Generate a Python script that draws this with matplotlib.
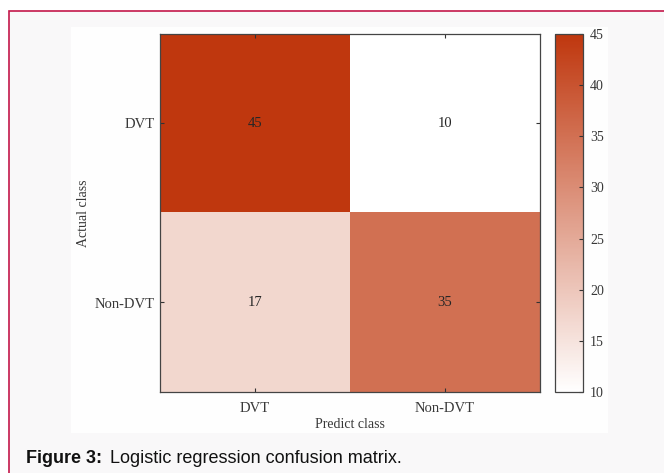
import matplotlib
matplotlib.use('Agg')
import matplotlib.pyplot as plt
import numpy as np
from matplotlib.colors import LinearSegmentedColormap
from matplotlib.patches import Rectangle

# confusion matrix, rows = actual, cols = predicted
classes = ['DVT', 'Non-DVT']
counts = np.array([[45, 10],
                   [17, 35]])
cbar_ticks = [10, 15, 20, 25, 30, 35, 40, 45]

plt.rcParams['font.family'] = ['Liberation Serif', 'DejaVu Serif']

fig = plt.figure(figsize=(6.64, 4.73), dpi=100)
fig.patch.set_facecolor('white')

# framed box behind the chart, cut off at right / bottom
fig.patches.append(Rectangle((9 / 664, -0.1), 1.2, 0.1 + 1 - 11 / 473,
                             transform=fig.transFigure, facecolor='#f9f8f9',
                             edgecolor='#c4184a', linewidth=1.2, zorder=-3))
# white panel of the chart image itself
fig.patches.append(Rectangle((71 / 664, 1 - 433 / 473), 537 / 664, 406 / 473,
                             transform=fig.transFigure, facecolor='#fefefe',
                             edgecolor='none', zorder=-2))

cmap = LinearSegmentedColormap.from_list('wr', ['#ffffff', '#bf370e'])

ax = fig.add_axes([160 / 664, 1 - 392 / 473, 380 / 664, 358 / 473])
im = ax.imshow(counts, cmap=cmap, vmin=10, vmax=45, aspect='auto')

for i in range(counts.shape[0]):
    for j in range(counts.shape[1]):
        ax.text(j, i, str(counts[i, j]), ha='center', va='center',
                fontsize=10.5, color='#262626')

ax.set_xticks(range(len(classes)))
ax.set_yticks(range(len(classes)))
ax.set_xticklabels(classes)
ax.set_yticklabels(classes)
ax.tick_params(direction='in', length=3, width=0.8, color='#333333',
               top=True, right=True, labelsize=10.5, labelcolor='#383838')
ax.tick_params(axis='x', pad=7)
ax.tick_params(axis='y', pad=4)
for s in ax.spines.values():
    s.set_color('#444444')
    s.set_linewidth(0.9)

ax.set_xlabel('Predict class', fontsize=10, color='#383838', labelpad=2)
ax.set_ylabel('Actual class', fontsize=10, color='#383838', labelpad=3)

cax = fig.add_axes([555 / 664, 1 - 392 / 473, 28 / 664, 358 / 473])
cb = fig.colorbar(im, cax=cax, ticks=cbar_ticks)
cb.outline.set_edgecolor('#444444')
cb.outline.set_linewidth(0.9)
cax.tick_params(direction='in', length=3, width=0.8, color='#333333',
                labelsize=10, labelcolor='#383838', pad=5)

# caption under the figure
fig.text(26 / 664, 1 - 458 / 473, 'Figure 3:', fontsize=13, fontweight='bold',
         family=['Liberation Sans', 'DejaVu Sans'], color='#111111', va='center')
fig.text(110 / 664, 1 - 458 / 473, 'Logistic regression confusion matrix.',
         fontsize=13, family=['Liberation Sans', 'DejaVu Sans'],
         color='#111111', va='center')

fig.savefig('out.png', dpi=100)
